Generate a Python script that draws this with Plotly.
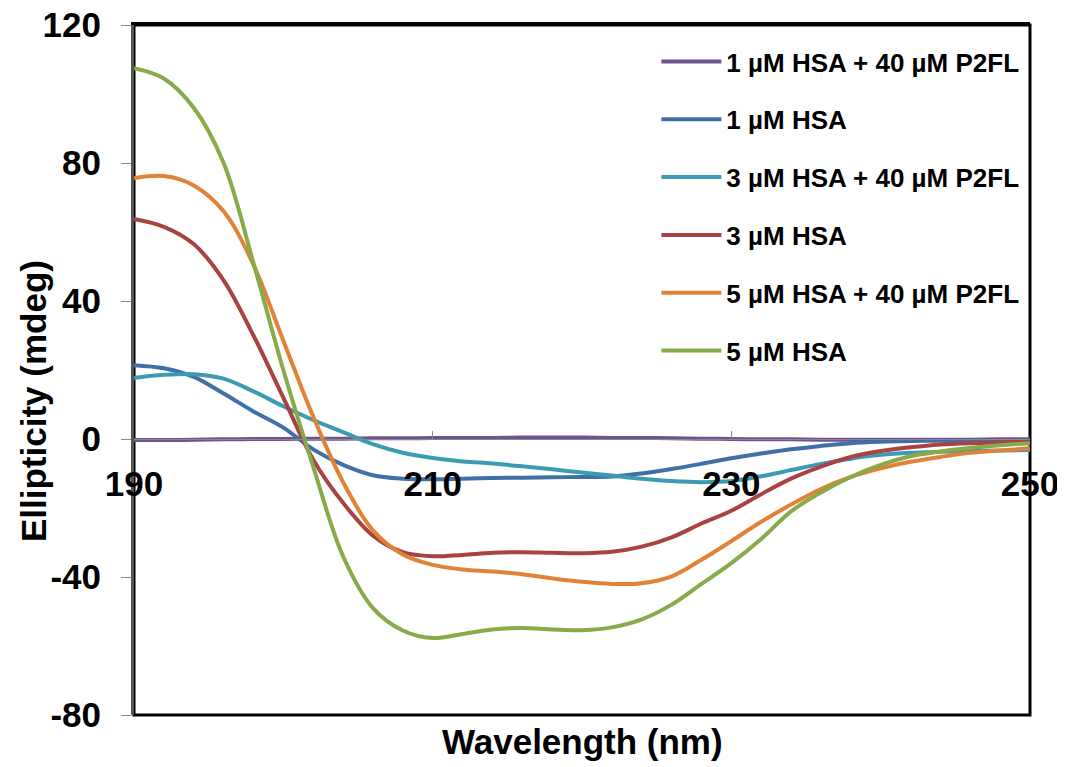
import plotly.graph_objects as go

# wavelength grid (nm)
wavelength = list(range(190, 252, 2))

# ellipticity (mdeg)
hsa1_p2fl = [-0.3, -0.3, -0.2, -0.1, 0, 0, 0.1, 0.1, 0.2, 0.2, 0.3, 0.3, 0.3, 0.4, 0.4, 0.4,
             0.3, 0.3, 0.2, 0.1, 0, -0.1, -0.1, -0.2, -0.2, -0.2, -0.2, -0.2, -0.2, -0.1, -0.1]
hsa1 = [21.4, 20.5, 18, 13.2, 8, 3.3, -3, -7.5, -10.5, -11.5, -11.7, -11.5, -11.3, -11.2, -11.1, -11,
        -10.9, -10, -8.7, -7.2, -5.6, -4.2, -3, -2, -1.2, -0.8, -0.6, -0.5, -0.5, -0.6, -0.8]
hsa3_p2fl = [17.7, 18.6, 18.8, 17.5, 13.8, 9.5, 5.5, 2, -1.5, -4, -5.5, -6.5, -7.1, -7.9, -8.8, -9.7,
             -10.6, -11.5, -12.2, -12.5, -12.2, -10.8, -9, -7.2, -5.7, -4.6, -4, -3.7, -3.5, -3.3, -3.2]
hsa3 = [63.8, 61.5, 56.5, 46, 30, 12, -6, -18.5, -28, -32.8, -34, -33.6, -33, -32.8, -33, -33.1,
        -32.7, -31.2, -28.5, -24.5, -20.8, -16, -11.5, -8, -5.2, -3.5, -2.4, -1.6, -1.2, -1, -0.8]
hsa5_p2fl = [75.6, 76.2, 73.5, 66, 50.5, 28.5, 6.5, -12.5, -26.5, -33.5, -36.5, -37.8, -38.4, -39.2,
             -40.4, -41.4, -42, -41.8, -39.8, -35, -29.6, -24, -19, -14.5, -11, -8.5, -6.6, -5.2, -4,
             -3.3, -2.7]
hsa5 = [107.5, 104.5, 96, 80, 51, 20, -8, -34, -49, -55.5, -57.7, -56.5, -55.2, -54.8, -55.2, -55.4,
        -54.6, -52.3, -48, -42, -36, -29, -21, -15.5, -11, -7.5, -5, -3.6, -2.6, -1.8, -1.2]

names = ["1 µM HSA + 40 µM P2FL", "1 µM HSA", "3 µM HSA + 40 µM P2FL",
         "3 µM HSA", "5 µM HSA + 40 µM P2FL", "5 µM HSA"]
series = [hsa1_p2fl, hsa1, hsa3_p2fl, hsa3, hsa5_p2fl, hsa5]
colors = ["#6F5290", "#4170A8", "#3C9BB2", "#A84342", "#E08338", "#88AA48"]

x_ticks = [190, 210, 230, 250]
y_ticks = [-80, -40, 0, 40, 80, 120]
y_ticktext = ["-80", "-40", "0", "40", "80", "120"]

FONT = "Liberation Sans, Arial, sans-serif"

fig = go.Figure()
for name, vals, col in zip(names, series, colors):
    fig.add_trace(go.Scatter(
        x=wavelength, y=vals, name=name, mode="lines",
        line=dict(color=col, width=4, shape="spline", smoothing=1.0),
        legendgroup=name,
    ))

# invisible trace so the top frame axis gets drawn
fig.add_trace(go.Scatter(x=wavelength, y=hsa1_p2fl, xaxis="x2", mode="lines",
                         opacity=0, showlegend=False, hoverinfo="skip"))

# page body adds an 8px offset, so margins are shifted accordingly
fig.update_layout(
    width=1065, height=767,
    margin=dict(l=126, r=43, t=17, b=60),
    plot_bgcolor="white", paper_bgcolor="white",
    font=dict(family=FONT, color="black"),
    showlegend=True,
    legend=dict(
        x=0.583, y=0.981, xanchor="left", yanchor="top",
        font=dict(size=26, family=FONT, color="black", weight="bold"),
        bgcolor="rgba(0,0,0,0)", tracegroupgap=21, itemwidth=60,
    ),
    xaxis=dict(
        range=[190, 250], tickvals=x_ticks,
        anchor="free", position=0.4, showline=True, linecolor="#888888", linewidth=1,
        ticks="inside", ticklen=8, tickcolor="#888888", tickwidth=1,
        ticklabelstandoff=14, automargin=False, ticklabeloverflow="allow",
        tickfont=dict(size=35, family=FONT, weight="bold"),
        showgrid=False, zeroline=False,
    ),
    xaxis2=dict(
        range=[190, 250], overlaying="x", anchor="y", side="top",
        showline=True, linecolor="black", linewidth=3, ticks="",
        showticklabels=False, showgrid=False, zeroline=False, automargin=False,
    ),
    yaxis=dict(
        range=[-80, 120], tickvals=y_ticks, ticktext=y_ticktext,
        showline=True, linecolor="#555555", linewidth=3,
        ticks="outside", ticklen=10, tickcolor="#888888", tickwidth=1,
        ticklabelstandoff=13, automargin=False, ticklabeloverflow="allow",
        tickfont=dict(size=35, family=FONT, weight="bold"),
        showgrid=False, zeroline=False,
    ),
    shapes=[
        dict(type="rect", xref="paper", yref="paper", x0=0, x1=1, y0=0, y1=1,
             layer="below", line=dict(color="black", width=3), fillcolor="rgba(0,0,0,0)"),
    ],
    annotations=[
        dict(text="Wavelength (nm)", xref="paper", yref="paper", x=0.5, y=0,
             yshift=-48, xanchor="center", yanchor="bottom", showarrow=False,
             font=dict(size=35, family=FONT, weight="bold", color="black")),
        dict(text="Ellipticity (mdeg)", xref="paper", yref="paper", x=0, y=0.455,
             xshift=-101, xanchor="center", yanchor="middle", textangle=-90, showarrow=False,
             font=dict(size=35, family=FONT, weight="bold", color="black")),
    ],
)

fig.write_html("out.html")
